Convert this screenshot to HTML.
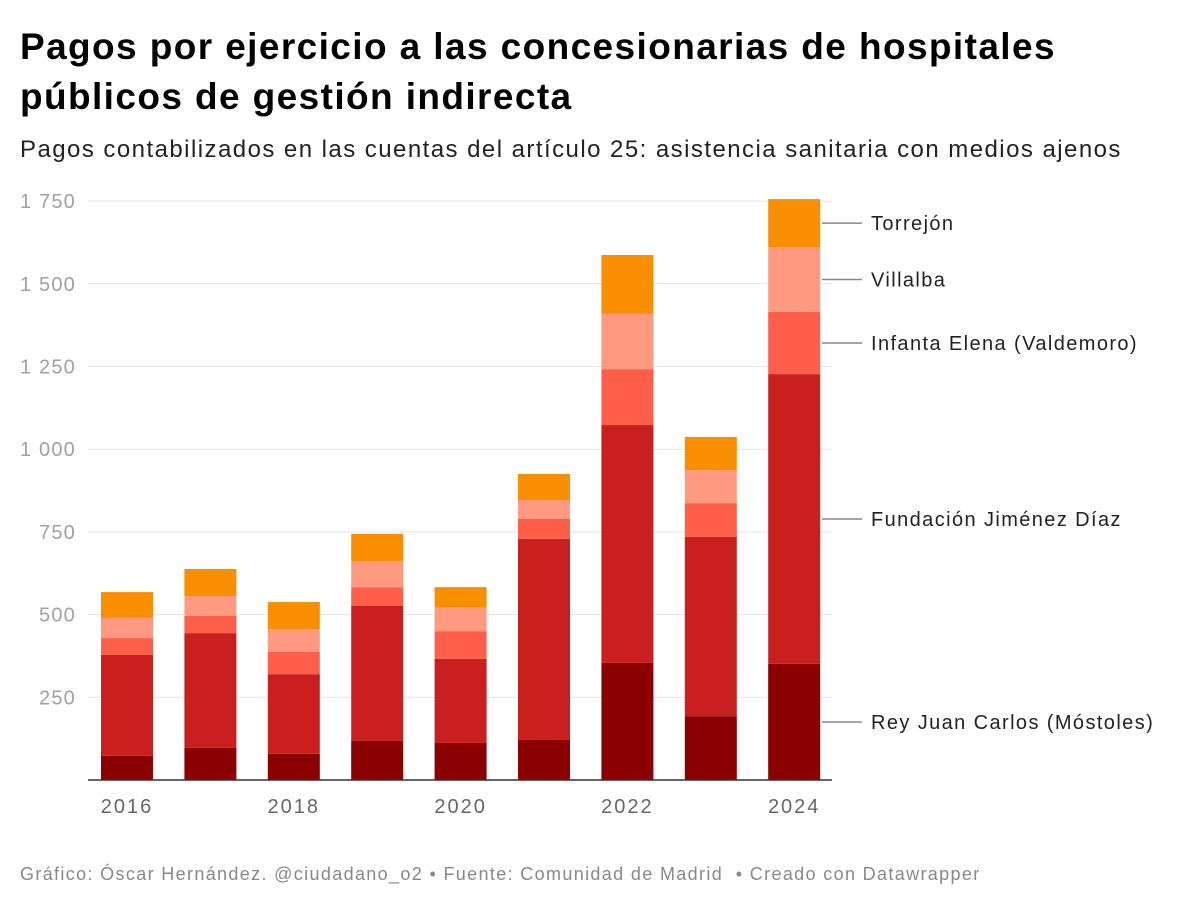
<!DOCTYPE html>
<html><head><meta charset="utf-8"><style>
body{margin:0;background:#fff;width:1200px;height:910px;overflow:hidden;font-family:"Liberation Sans",sans-serif}
#title{position:absolute;left:20px;top:22px;font-size:37px;font-weight:bold;line-height:50px;color:#000;margin:0;letter-spacing:1.4px}
#sub{position:absolute;left:20px;top:136px;font-size:24px;color:#222;letter-spacing:1.45px}
#foot{position:absolute;left:20px;top:864px;font-size:18px;color:#888;letter-spacing:1.35px}
svg{position:absolute;left:0;top:0}
</style></head><body>
<h1 id="title">Pagos por ejercicio a las concesionarias de hospitales<br>públicos de gestión indirecta</h1>
<div id="sub">Pagos contabilizados en las cuentas del artículo 25: asistencia sanitaria con medios ajenos</div>
<div id="foot">Gráfico: Óscar Hernández. @ciudadano_o2 • Fuente: Comunidad de Madrid &nbsp;• Creado con Datawrapper</div>
<svg id="chart" width="1200" height="910"></svg>
<script>
const years=[2016,2017,2018,2019,2020,2021,2022,2023,2024];
const seriesNames=["Rey Juan Carlos (Móstoles)","Fundación Jiménez Díaz","Infanta Elena (Valdemoro)","Villalba","Torrejón"];
const reyJuanCarlos=[73,97,79,118,112,121,354,193,351];
const fundacionJD=[305,347,241,408,254,608,719,542,876];
const infantaElena=[51,52,67,57,84,60,169,102,188];
const villalba=[61,60,69,79,73,57,167,100,196];
const torrejon=[78,82,82,82,60,79,178,100,145];
const seriesVals=[reyJuanCarlos,fundacionJD,infantaElena,villalba,torrejon];
const colors=["#8b0000","#c91f1f","#ff5f4a","#ff9a80","#f98e00"];
const yTicks=[250,500,750,1000,1250,1500,1750];
const yTickLabels=["250","500","750","1 000","1 250","1 500","1 750"];
const xLabelYears=[2016,2018,2020,2022,2024];

const svg=document.getElementById('chart');const NS="http://www.w3.org/2000/svg";
function mk(t,a,p){const e=document.createElementNS(NS,t);for(const k in a)e.setAttribute(k,a[k]);(p||svg).appendChild(e);return e;}
const y0=780,pxPer=0.3308;
const yS=v=>y0-v*pxPer;
const xS=i=>127+i*83.4;
const bw=52;
yTicks.forEach((t,i)=>{
  const g=mk('line',{x1:88,x2:832,y1:yS(t),y2:yS(t),stroke:'#e3e3e3','stroke-width':1});
  
  
  const l=mk('text',{x:76,y:yS(t)+7,'text-anchor':'end','font-size':20,fill:'#a0a0a0','font-family':'Liberation Sans','letter-spacing':1.2});
  l.textContent=yTickLabels[i];
  
  
});
years.forEach((yr,i)=>{
  let cum=0;
  seriesVals.forEach((s,k)=>{
    const v=s[i];
    const r=mk('rect',{x:xS(i)-bw/2,y:yS(cum+v),width:bw,height:v*pxPer,fill:colors[k]});
    
    
    cum+=v;
  });
  if(xLabelYears.includes(yr)){
    const t=mk('text',{x:xS(i),y:813,'text-anchor':'middle','font-size':20,fill:'#666','font-family':'Liberation Sans','letter-spacing':2});
    t.textContent=yr;
    
    
  }
});
const base=mk('line',{x1:88,x2:832,y1:y0,y2:y0,stroke:'#333','stroke-width':1.5});


let cum=0;const last=years.length-1;
const labelY=[];
seriesVals.forEach((s,k)=>{const v=s[last];labelY.push(yS(cum+v/2));cum+=v;});
seriesNames.forEach((n,k)=>{
  const y=labelY[k];
  const ln=mk('line',{x1:822,x2:862,y1:y,y2:y,stroke:'#888','stroke-width':1.5});
  
  
  const t=mk('text',{x:871,y:y+7,'font-size':20,fill:'#222','font-family':'Liberation Sans','letter-spacing':1.4});
  t.textContent=n;
  
  
});
</script>
</body></html>
